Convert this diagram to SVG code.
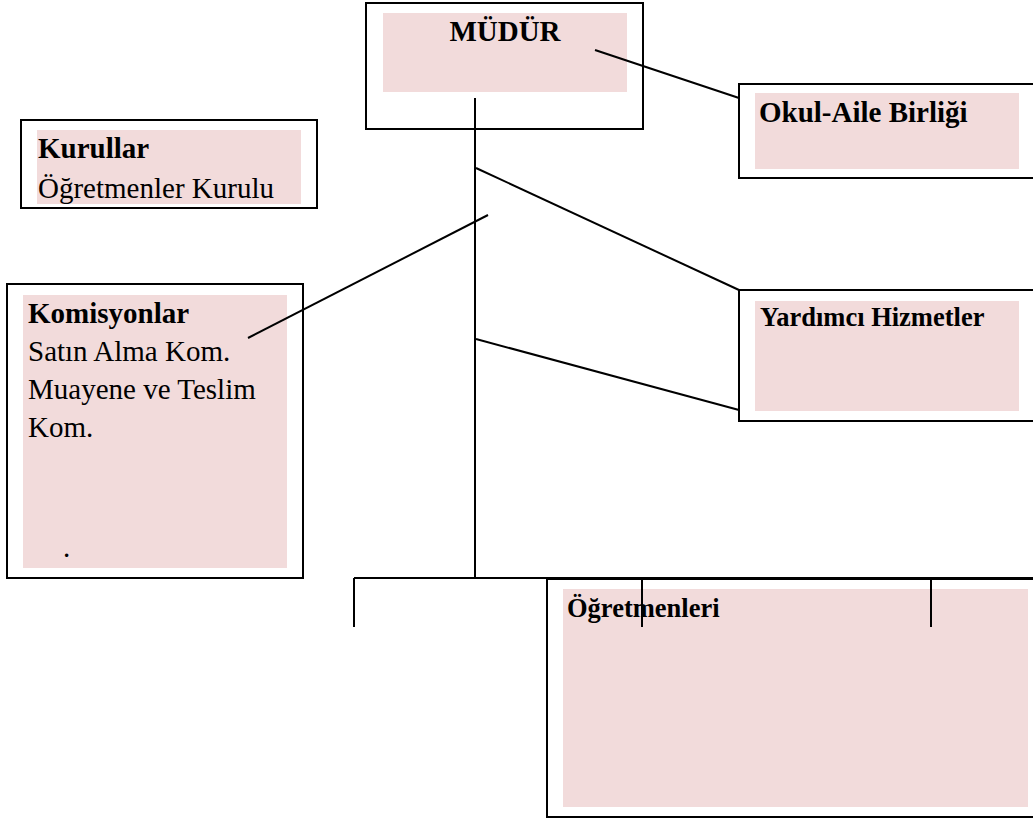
<svg xmlns="http://www.w3.org/2000/svg" width="1033" height="821" viewBox="0 0 1033 821">
<style>
.outer{fill:#fff;stroke:#000;stroke-width:2}
.pink{fill:#F2DBDB;stroke:none}
.t{font-family:"Liberation Serif","Times New Roman",serif;fill:#000}
.b{font-weight:bold}
.s29{font-size:29px}
.s26{font-size:26.5px}
.c line{stroke:#000;stroke-width:2;fill:none}
</style>
<rect width="1033" height="821" fill="#fff"/>
<g id="mudur">
<rect class="outer" x="366" y="3" width="277" height="126"/>
<rect class="pink" x="383" y="13" width="244" height="79"/>
<text class="t b s29" x="505" y="41" text-anchor="middle">MÜDÜR</text>
</g>
<g id="okul-aile">
<rect class="outer" x="739" y="84" width="310" height="94"/>
<rect class="pink" x="755" y="93" width="264" height="76"/>
<text class="t b s29" x="759" y="122">Okul-Aile Birliği</text>
</g>
<g id="kurullar">
<rect class="outer" x="21" y="120" width="296" height="88"/>
<rect class="pink" x="37" y="130" width="264" height="74"/>
<text class="t b s29" x="38" y="158">Kurullar</text>
<text class="t s29" x="38" y="198">Öğretmenler Kurulu</text>
</g>
<g id="komisyonlar">
<rect class="outer" x="7" y="284" width="296" height="294"/>
<rect class="pink" x="23" y="295" width="264" height="273"/>
<text class="t b s29" x="28" y="323">Komisyonlar</text>
<text class="t s29" x="28" y="361">Satın Alma Kom.</text>
<text class="t s29" x="28" y="399">Muayene ve Teslim</text>
<text class="t s29" x="28" y="437">Kom.</text>
<text class="t s29" x="63" y="557">.</text>
</g>
<g id="yardimci">
<rect class="outer" x="739" y="290" width="310" height="131"/>
<rect class="pink" x="755" y="301" width="264" height="110"/>
<text class="t b s26" x="760" y="326">Yardımcı Hizmetler</text>
</g>
<g id="ogretmenleri">
<rect class="outer" x="547" y="579" width="500" height="238"/>
<rect class="pink" x="563" y="589" width="465" height="218"/>
<text class="t b s26" x="567" y="617">Öğretmenleri</text>
</g>
<g id="connectors" class="c">
<line x1="475" y1="98" x2="475" y2="578"/>
<line x1="595" y1="50" x2="739" y2="98"/>
<line x1="476" y1="168" x2="739" y2="290"/>
<line x1="476" y1="339" x2="739" y2="410"/>
<line x1="248" y1="338" x2="488" y2="215"/>
<line x1="354" y1="578" x2="1033" y2="578"/>
<line x1="354" y1="578" x2="354" y2="627"/>
<line x1="642" y1="578" x2="642" y2="627"/>
<line x1="931" y1="578" x2="931" y2="627"/>
</g>
</svg>
